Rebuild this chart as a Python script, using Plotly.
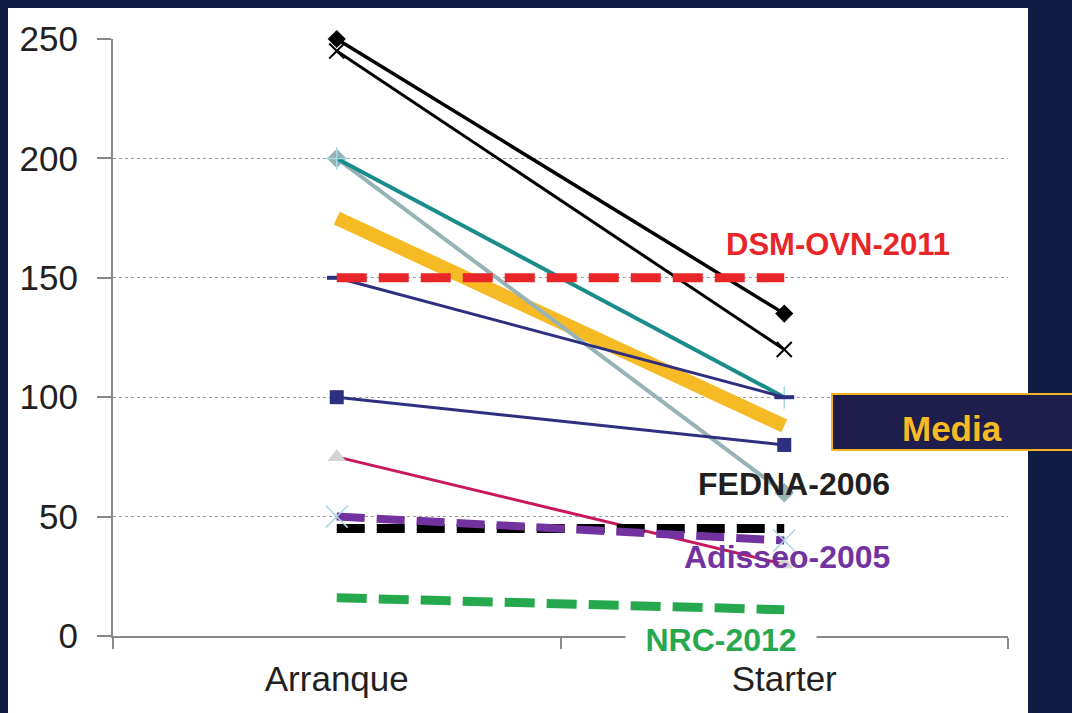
import plotly.graph_objects as go

categories = ["Arranque", "Starter"]

# series values (Arranque, Starter)
black_diamond = [250, 135]
black_x = [245, 120]
teal = [200, 100]
grayteal = [200, 60]
navy_thin = [150, 100]
navy_square = [100, 80]
crimson = [75, 30]
media = [175, 88]
adisseo_2005 = [50, 40]
fedna_2006 = [45, 45]
dsm_ovn_2011 = [150, 150]
nrc_2012 = [16, 11]

ytick_vals = [0, 50, 100, 150, 200, 250]

FONT = "Liberation Sans, Arial, sans-serif"
NAVY_BG = "#111C45"

fig = go.Figure()

def add(y, color, width, dash="solid", marker=None):
    kw = dict(x=categories, y=y, mode="lines", cliponaxis=False,
              line=dict(color=color, width=width, dash=dash), showlegend=False,
              hoverinfo="skip")
    if marker:
        kw["mode"] = "lines+markers"
        kw["marker"] = marker
    fig.add_trace(go.Scatter(**kw))

add(media, "#F6BA24", 14)
add(black_diamond, "#000000", 3.5, marker=dict(symbol="diamond", size=14, color="#000000"))
add(black_x, "#000000", 3, marker=dict(symbol="x-thin", size=15, line=dict(color="#000000", width=2)))
add(grayteal, "#96B4B6", 4, marker=dict(symbol="diamond", size=15, color="#96B4B6"))
add(teal, "#1A8C8A", 4, marker=dict(symbol="cross-thin", size=16, line=dict(color="#A8D8E0", width=1.5)))
add(navy_thin, "#2E2F7F", 3, marker=dict(symbol="line-ew", size=14, line=dict(color="#2E2F7F", width=4)))
add(navy_square, "#2E2F7F", 3, marker=dict(symbol="square", size=14, color="#2E2F7F"))
add(crimson, "#C8175D", 3, marker=dict(symbol="triangle-up", size=16, color="#D3D3D3"))
add(fedna_2006, "#000000", 9, dash="28px,12px")
add(adisseo_2005, "#7233A0", 8, dash="28px,12px",
    marker=dict(symbol="x-thin", size=22, line=dict(color="#A8D8E0", width=1.5)))
add(dsm_ovn_2011, "#E8262A", 9, dash="30px,12px")
add(nrc_2012, "#26A84F", 9, dash="30px,12px")

shapes = [
    dict(type="rect", xref="paper", yref="paper", x0=-0.11732, x1=1.02235, y0=-0.2, y1=1.05193,
         fillcolor="white", line=dict(width=0), layer="below"),
    dict(type="rect", xref="paper", yref="paper", x0=0.8034, x1=1.12, y0=0.3116, y1=0.4054,
         fillcolor="#1F1D4B", line=dict(color="#F0B323", width=2), layer="above"),
]

def label(text, x, y, size, color, **extra):
    d = dict(text="<b>" + text + "</b>", xref="paper", yref="paper", x=x, y=y,
             xanchor="center", yanchor="middle", showarrow=False,
             font=dict(family=FONT, size=size, color=color))
    d.update(extra)
    return d

annotations = [
    label("Media", 0.9374, 0.3484, 35, "#F6BA24"),
    label("DSM-OVN-2011", 0.810, 0.6558, 31, "#E8262A"),
    label("FEDNA-2006", 0.761, 0.2546, 32, "#231F20"),
    label("Adisseo-2005", 0.753, 0.1323, 32, "#7233A0"),
    label("NRC-2012", 0.679, -0.0067, 32, "#26A84F", bgcolor="white", width=188),
]

fig.update_layout(
    width=1072, height=713,
    margin=dict(l=113, r=64, t=39, b=77),
    paper_bgcolor=NAVY_BG,
    plot_bgcolor="white",
    font=dict(family=FONT, color="#231F20"),
    shapes=shapes,
    annotations=annotations,
    xaxis=dict(
        type="category", range=[-0.5, 1.5],
        showgrid=False, showline=True, linecolor="#888888", linewidth=2,
        ticks="outside", tickson="boundaries", ticklen=11, tickcolor="#888888", tickwidth=2,
        tickfont=dict(family=FONT, size=35, color="#231F20"),
        ticklabelstandoff=11,
        zeroline=False,
    ),
    yaxis=dict(
        range=[0, 250], tickvals=ytick_vals,
        showgrid=True, gridcolor="#999999", griddash="dot", gridwidth=1,
        showline=True, linecolor="#888888", linewidth=2,
        ticks="outside", ticklen=14, tickcolor="#888888", tickwidth=2,
        tickfont=dict(family=FONT, size=35, color="#231F20"),
        ticklabelstandoff=12,
        zeroline=False,
    ),
)

fig.write_html("out.html")
